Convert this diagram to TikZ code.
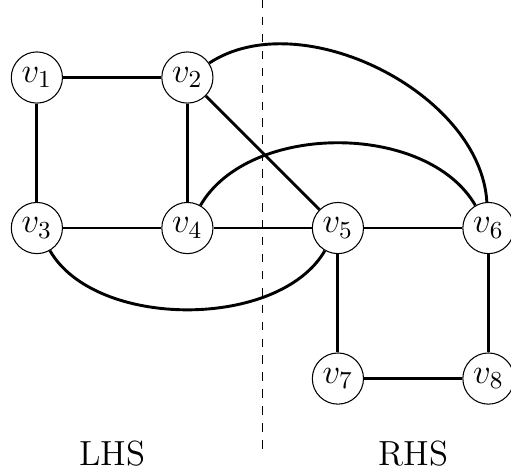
\RequirePackage{fix-cm}
\documentclass[tikz,border=0pt]{standalone}
\newcommand{\labelsize}{\fontsize{13.2}{16}\selectfont}
\begin{document}
\begin{tikzpicture}[vertex/.style = {draw, circle, fill=white, minimum size = 0.68cm, inner sep = 0pt, font = \labelsize},
                    edge/.style = {line width = 1.1pt}]
%frame
    \useasboundingbox (-0.49,-1.26) rectangle (6.30,5.03);
%nodes
    \node[vertex] (v1) at (0,4) {$v_1$}; \node[vertex] (v2) at (2,4) {$v_2$};
    \node[vertex] (v3) at (0,2) {$v_3$}; \node[vertex] (v4) at (2,2) {$v_4$};
    \node[vertex] (v5) at (4,2) {$v_5$}; \node[vertex] (v6) at (6,2) {$v_6$};
    \node[vertex] (v7) at (4,0) {$v_7$}; \node[vertex] (v8) at (6,0) {$v_8$};
%divider
    \coordinate (top) at (3,5.03); \coordinate (bot) at (3,-0.98);
    \draw[dash pattern = on 3.2pt off 3.2pt] (top) -- (bot);
%edges
    \draw[edge] (v1) -- (v2); \draw[edge] (v1) -- (v3);
    \draw[edge] (v2) -- (v4); \draw[edge] (v3) -- (v4);
    \draw[edge] (v4) -- (v5); \draw[edge] (v5) -- (v6);
    \draw[edge] (v2) -- (v5); \draw[edge] (v5) -- (v7);
    \draw[edge] (v7) -- (v8); \draw[edge] (v6) -- (v8);
%arcs
    \draw[edge] (v2) to [bend left = 60, looseness = 0.9] (v6);
    \draw[edge] (v4) to [out = 60, in = 120, looseness = 0.9] (v6);
    \draw[edge] (v3) to [out = -60, in = -120, looseness = 0.85] (v5);
%labels
    \node[font = \labelsize] (lhs) at (1,-1) {LHS};
    \node[font = \labelsize] (rhs) at (5,-1) {RHS};
\end{tikzpicture}
\end{document}
